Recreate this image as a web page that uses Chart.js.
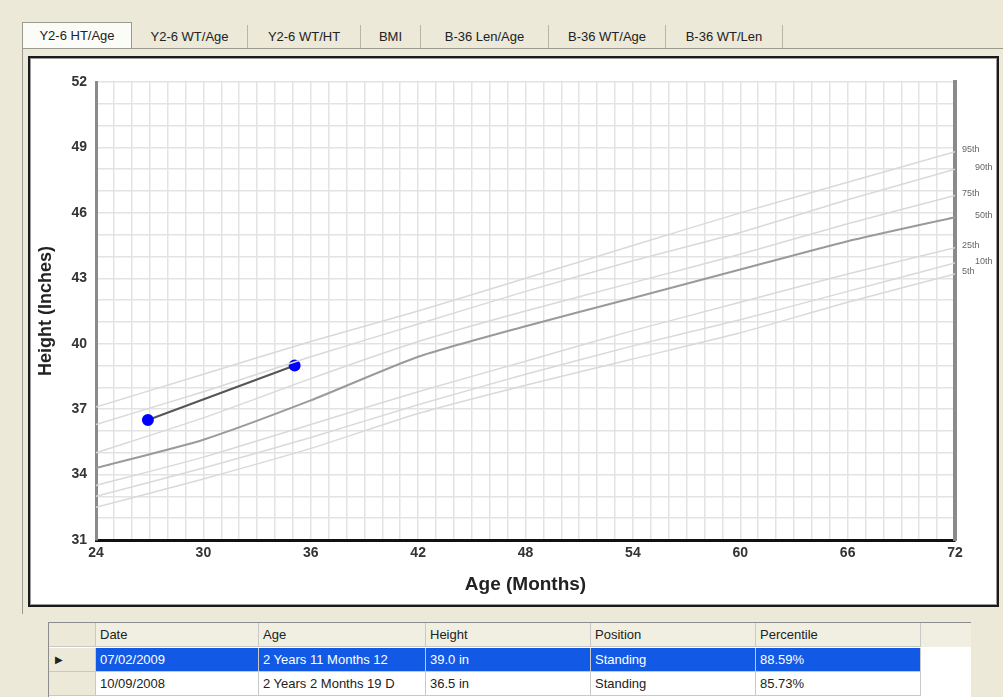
<!DOCTYPE html>
<html>
<head>
<meta charset="utf-8">
<script src="https://cdn.jsdelivr.net/npm/chart.js@4.4.1/dist/chart.umd.min.js"></script>
<style>
  body { margin:0; width:1003px; height:697px; background:#ece9d8; font-family:"Liberation Sans", Arial, sans-serif; overflow:hidden; position:relative; }
  .tabs { position:absolute; left:22px; top:22px; height:26px; width:980px; }
  .tab { position:absolute; top:3px; height:23px; line-height:23px; font-size:13px; color:#222; text-align:center; border-right:1px solid #b9b6a6; }
  .tab.on { top:0; height:26px; line-height:26px; background:#fbfbf8; border:1px solid #9a9a90; border-bottom:none; }
  .panel { position:absolute; left:22px; top:48px; width:985px; height:565px; border-top:1px solid #9a9a90; border-left:1px solid #9a9a90; }
  .box { position:absolute; left:28px; top:56px; width:967px; height:547px; background:#fff; border:2px solid #1a1a1a; box-shadow:inset 0 0 0 1px #9a9a9a; }
  #wrap { position:absolute; left:33px; top:61px; width:962px; height:543px; }
  .grid { position:absolute; left:48px; top:622px; width:922px; height:80px; background:#fff; border:1px solid #8c8c8c; border-right:none; font-size:13px; color:#222; }
  .row { position:absolute; left:0; width:922px; height:24px; line-height:24px; }
  .cell { position:absolute; top:0; height:100%; padding-left:4px; box-sizing:border-box; border-right:1px solid #c8c8c8; border-bottom:1px solid #c8c8c8; white-space:nowrap; overflow:hidden; }
  .hdr { background:#f1efe2; }
  .sel { background:#1259e6; color:#fff; }
  .rh { background:#ece9d8; }
</style>
</head>
<body>
<div class="tabs">
  <div class="tab on" style="left:0;width:108px">Y2-6 HT/Age</div>
  <div class="tab" style="left:110px;width:115px">Y2-6 WT/Age</div>
  <div class="tab" style="left:226px;width:112px">Y2-6 WT/HT</div>
  <div class="tab" style="left:339px;width:59px">BMI</div>
  <div class="tab" style="left:399px;width:127px">B-36 Len/Age</div>
  <div class="tab" style="left:527px;width:116px">B-36 WT/Age</div>
  <div class="tab" style="left:644px;width:116px">B-36 WT/Len</div>
</div>
<div class="panel"></div>
<div class="box"></div>
<div id="wrap"><canvas id="chart" width="962" height="543"></canvas></div>

<div class="grid">
  <div class="row hdr" style="top:0">
    <div class="cell rh" style="left:0;width:47px"></div>
    <div class="cell" style="left:47px;width:163px">Date</div>
    <div class="cell" style="left:210px;width:167px">Age</div>
    <div class="cell" style="left:377px;width:165px">Height</div>
    <div class="cell" style="left:542px;width:165px">Position</div>
    <div class="cell" style="left:707px;width:165px">Percentile</div>
  </div>
  <div class="row" style="top:25px">
    <div class="cell rh" style="left:0;width:47px;padding-left:6px;font-size:10px">&#9654;</div>
    <div class="cell sel" style="left:47px;width:163px">07/02/2009</div>
    <div class="cell sel" style="left:210px;width:167px">2 Years 11 Months 12</div>
    <div class="cell sel" style="left:377px;width:165px">39.0 in</div>
    <div class="cell sel" style="left:542px;width:165px">Standing</div>
    <div class="cell sel" style="left:707px;width:165px">88.59%</div>
  </div>
  <div class="row" style="top:49px">
    <div class="cell rh" style="left:0;width:47px"></div>
    <div class="cell" style="left:47px;width:163px">10/09/2008</div>
    <div class="cell" style="left:210px;width:167px">2 Years 2 Months 19 D</div>
    <div class="cell" style="left:377px;width:165px">36.5 in</div>
    <div class="cell" style="left:542px;width:165px">Standing</div>
    <div class="cell" style="left:707px;width:165px">85.73%</div>
  </div>
</div>

<script>
// Age in months for the reference curves
const months = [24, 30, 36, 42, 48, 54, 60, 66, 72];

// Height (inches) per percentile
const p5  = [32.5, 33.8, 35.2, 36.8, 38.1, 39.3, 40.5, 41.9, 43.2];
const p10 = [33.0, 34.3, 35.7, 37.2, 38.6, 39.9, 41.1, 42.4, 43.7];
const p25 = [33.5, 34.8, 36.3, 37.8, 39.2, 40.6, 41.9, 43.2, 44.4];
const p50 = [34.3, 35.6, 37.4, 39.4, 40.8, 42.1, 43.4, 44.7, 45.8];
const p75 = [35.0, 36.6, 38.4, 40.1, 41.5, 42.8, 44.1, 45.5, 46.8];
const p90 = [36.3, 37.8, 39.4, 40.9, 42.4, 43.8, 45.1, 46.6, 48.0];
const p95 = [37.1, 38.6, 40.1, 41.5, 43.0, 44.5, 46.0, 47.4, 48.8];

// Patient measurements
const visitAge = [26.9, 35.1];
const visitHeight = [36.5, 39.0];

// Labelled ticks
const xTicks = [24, 30, 36, 42, 48, 54, 60, 66, 72];
const yTicks = [31, 34, 37, 40, 43, 46, 49, 52];

const pts = (xs, ys) => xs.map((x, i) => ({x, y: ys[i]}));

const curve = (label, ys, far, main) => ({
  label, data: pts(months, ys), pct: true, far,
  borderColor: main ? "#9a9a9a" : "#d9d9d9",
  borderWidth: main ? 2 : 1.5,
  pointRadius: 0, tension: 0.2, fill: false
});

// percentile names at the right edge
const pctLabels = {
  id: "pctLabels",
  afterDatasetsDraw(chart){
    const {ctx, chartArea} = chart;
    ctx.save();
    ctx.font = '9px "Liberation Sans"';
    ctx.fillStyle = "#666";
    ctx.textBaseline = "middle";
    chart.data.datasets.forEach((ds, i) => {
      if(!ds.pct) return;
      const meta = chart.getDatasetMeta(i);
      const p = meta.data[meta.data.length - 1];
      ctx.fillText(ds.label, chartArea.right + (ds.far ? 20 : 7), p.y - 2);
    });
    ctx.restore();
  }
};

const tickFont = {family: "Liberation Sans", size: 14, weight: "bold"};

new Chart(document.getElementById("chart"), {
  type: "line",
  data: {
    datasets: [
      curve("95th", p95, false),
      curve("90th", p90, true),
      curve("75th", p75, false),
      curve("50th", p50, true, true),
      curve("25th", p25, false),
      curve("10th", p10, true),
      curve("5th",  p5,  false),
      {
        label: "Patient", data: pts(visitAge, visitHeight),
        borderColor: "#555", borderWidth: 2,
        pointRadius: 5, pointBackgroundColor: "#0000ff", pointBorderColor: "#0000ff",
        tension: 0
      }
    ]
  },
  options: {
    responsive: false,
    animation: false,
    layout: {padding: {top: 21, left: 0, right: 0, bottom: 0}},
    plugins: {legend: {display: false}, tooltip: {enabled: false}},
    scales: {
      x: {
        type: "linear", min: 24, max: 72,
        ticks: {stepSize: 1, autoSkip: false, maxRotation: 0, padding: 5, color: "#333", font: tickFont,
          callback: v => xTicks.includes(v) ? String(v) : ""},
        grid: {color: "#e3e3e3", lineWidth: 1.5, drawTicks: false},
        border: {color: "#111", width: 3},
        title: {display: true, text: "Age (Months)", color: "#222",
          font: {family: "Liberation Sans", size: 19, weight: "bold"}, padding: {top: 0, bottom: 8}},
        afterFit(s){ s.height = 64; }
      },
      y: {
        min: 31, max: 52,
        ticks: {stepSize: 1, autoSkip: false, padding: 9, color: "#333", font: tickFont,
          callback: v => yTicks.includes(v) ? String(v) : ""},
        grid: {color: "#e3e3e3", lineWidth: 1.5, drawTicks: false},
        border: {color: "#8a8a8a", width: 3},
        title: {display: true, text: "Height (Inches)", color: "#222",
          font: {family: "Liberation Sans", size: 18, weight: "bold"}, padding: {top: 2, bottom: 0}},
        afterFit(s){ s.width = 63; }
      },
      y2: {
        position: "right", min: 31, max: 52,
        ticks: {display: false},
        grid: {display: false, drawTicks: false},
        border: {color: "#8a8a8a", width: 4},
        afterFit(s){ s.width = 40; }
      }
    }
  },
  plugins: [pctLabels]
});
</script>
</body>
</html>
